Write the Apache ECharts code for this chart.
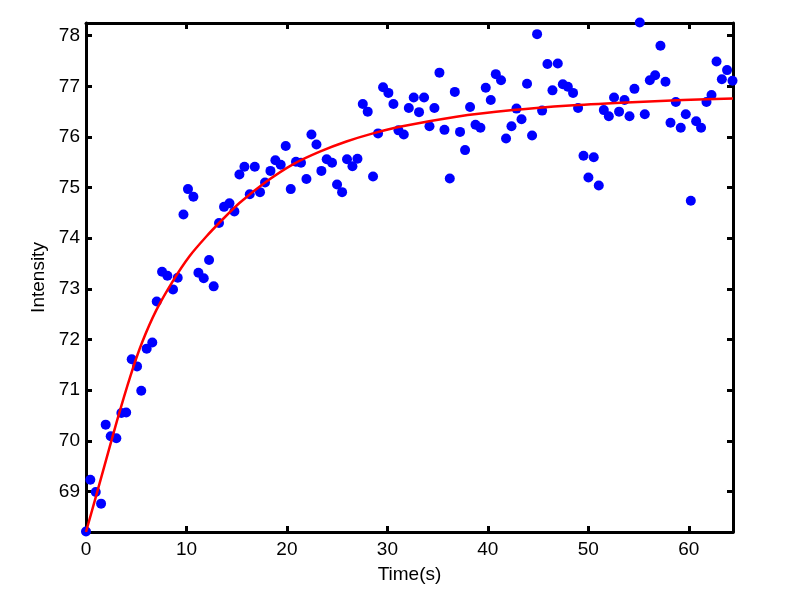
<!DOCTYPE html>
<html>
<head>
<meta charset="utf-8">
<script src="https://cdn.jsdelivr.net/npm/echarts@6/dist/echarts.min.js"></script>
<style>
html,body{margin:0;padding:0;background:#fff;}
#chart{width:800px;height:593px;}
</style>
</head>
<body>
<div id="chart"></div>
<script>
// Measured samples: time (s)
const sampleTime = [0, 0.43, 0.97, 1.5, 1.96, 2.46, 3.02, 3.52, 4.0, 4.55, 5.08, 5.5, 6.04, 6.6, 7.04, 7.57, 8.1, 8.66, 9.13, 9.7,
  10.15, 10.69, 11.19, 11.72, 12.25, 12.71, 13.24, 13.74, 14.28, 14.77, 15.27, 15.77, 16.3, 16.8, 17.32, 17.82, 18.36, 18.85, 19.38, 19.88,
  20.38, 20.9, 21.4, 21.94, 22.44, 22.94, 23.43, 23.96, 24.49, 24.99, 25.49, 25.98, 26.52, 27.02, 27.55, 28.04, 28.57, 29.07, 29.57, 30.1,
  30.6, 31.1, 31.63, 32.13, 32.62, 33.15, 33.65, 34.19, 34.68, 35.18, 35.68, 36.21, 36.71, 37.23, 37.73, 38.23, 38.77, 39.26, 39.79, 40.29,
  40.79, 41.31, 41.81, 42.35, 42.85, 43.35, 43.9, 44.4, 44.9, 45.4, 45.93, 46.43, 46.96, 47.46, 47.96, 48.48, 48.98, 49.52, 50.01, 50.54,
  51.04, 51.54, 52.04, 52.56, 53.06, 53.6, 54.1, 54.59, 55.12, 55.62, 56.12, 56.65, 57.18, 57.68, 58.18, 58.71, 59.2, 59.7, 60.2, 60.73,
  61.22, 61.76, 62.26, 62.76, 63.29, 63.81, 64.35];
// Measured samples: intensity
const sampleIntensity = [68.21, 69.23, 68.99, 68.76, 70.32, 70.09, 70.05, 70.55, 70.56, 71.61, 71.47, 70.99, 71.82, 71.94, 72.75, 73.34, 73.26, 72.99, 73.22, 74.47,
  74.97, 74.82, 73.32, 73.21, 73.57, 73.05, 74.30, 74.62, 74.69, 74.53, 75.26, 75.41, 74.87, 75.41, 74.91, 75.10, 75.33, 75.54, 75.45, 75.82,
  74.97, 75.51, 75.49, 75.17, 76.05, 75.85, 75.33, 75.56, 75.49, 75.06, 74.91, 75.56, 75.42, 75.57, 76.65, 76.50, 75.22, 76.07, 76.98, 76.87,
  76.65, 76.13, 76.05, 76.57, 76.78, 76.49, 76.78, 76.21, 76.57, 77.27, 76.14, 75.18, 76.89, 76.10, 75.74, 76.59, 76.24, 76.18, 76.97, 76.73,
  77.24, 77.12, 75.97, 76.21, 76.56, 76.35, 77.05, 76.03, 78.03, 76.52, 77.44, 76.92, 77.45, 77.04, 76.99, 76.87, 76.57, 75.63, 75.20, 75.60,
  75.04, 76.53, 76.41, 76.78, 76.50, 76.73, 76.41, 76.95, 78.26, 76.45, 77.12, 77.22, 77.80, 77.09, 76.28, 76.69, 76.18, 76.45, 74.74, 76.31,
  76.18, 76.69, 76.83, 77.49, 77.14, 77.32, 77.11];
// Fitted curve
const fitTime = [0, 1.76, 3.09, 4.42, 5.6, 7.0, 8.66, 10.32, 12.0, 13.64, 15.3, 17.96, 20.6, 23.27, 25.92, 28.57, 31.23, 36.87, 42.5, 48.15, 53.8, 59.43, 64.4];
const fitIntensity = [68.2, 69.45, 70.4, 71.28, 71.95, 72.58, 73.16, 73.65, 74.04, 74.38, 74.7, 75.12, 75.46, 75.71, 75.91, 76.07, 76.2, 76.4, 76.53, 76.62, 76.68, 76.73, 76.76];
// Tick labels
const xTicks = [0, 10, 20, 30, 40, 50, 60];
const yTicks = [69, 70, 71, 72, 73, 74, 75, 76, 77, 78];

const scatterData = sampleTime.map((t, i) => [t, sampleIntensity[i]]);
const fitData = fitTime.map((t, i) => [t, fitIntensity[i]]);

const FONT = 'Liberation Sans, Arial, sans-serif';
const X_MIN = 0, X_MAX = 64.4, Y_MIN = 68.2, Y_MAX = 78.25;

function axisCommon(extra) {
  return Object.assign({
    type: 'value',
    axisLine: { show: true, onZero: false, lineStyle: { color: '#000', width: 3 } },
    splitLine: { show: false },
  }, extra);
}
const tickStyle = (vals) => ({ show: true, inside: true, length: 6, lineStyle: { color: '#000', width: 3 }, customValues: vals });

const chart = echarts.init(document.getElementById('chart'), null, { renderer: 'canvas' });
chart.setOption({
  backgroundColor: '#fff',
  animation: false,
  grid: { left: 86, right: 67, top: 23, bottom: 61, containLabel: false },
  xAxis: [
    axisCommon({
      position: 'bottom', min: X_MIN, max: X_MAX,
      name: 'Time(s)', nameLocation: 'middle', nameGap: 33,
      nameTextStyle: { color: '#000', fontFamily: FONT, fontSize: 19 },
      axisTick: tickStyle(xTicks),
      axisLabel: { show: true, color: '#000', fontFamily: FONT, fontSize: 19, margin: 8, customValues: xTicks }
    }),
    axisCommon({
      position: 'top', min: X_MIN, max: X_MAX,
      axisTick: tickStyle(xTicks),
      axisLabel: { show: false }
    })
  ],
  yAxis: [
    axisCommon({
      position: 'left', min: Y_MIN, max: Y_MAX,
      name: 'Intensity', nameLocation: 'middle', nameGap: 38,
      nameTextStyle: { color: '#000', fontFamily: FONT, fontSize: 19 },
      axisTick: tickStyle(yTicks),
      axisLabel: { show: true, color: '#000', fontFamily: FONT, fontSize: 19, margin: 6, customValues: yTicks }
    }),
    axisCommon({
      position: 'right', min: Y_MIN, max: Y_MAX,
      axisTick: tickStyle(yTicks),
      axisLabel: { show: false }
    })
  ],
  series: [
    {
      type: 'scatter', xAxisIndex: 0, yAxisIndex: 0,
      data: scatterData, symbol: 'circle', symbolSize: 10, clip: false,
      itemStyle: { color: '#0000ff', opacity: 1 }, z: 2
    },
    {
      type: 'line', xAxisIndex: 0, yAxisIndex: 0,
      data: fitData, smooth: 0.25, showSymbol: false, symbol: 'none', clip: true,
      lineStyle: { color: '#ff0000', width: 2.5 }, z: 3
    }
  ]
});
</script>
</body>
</html>
